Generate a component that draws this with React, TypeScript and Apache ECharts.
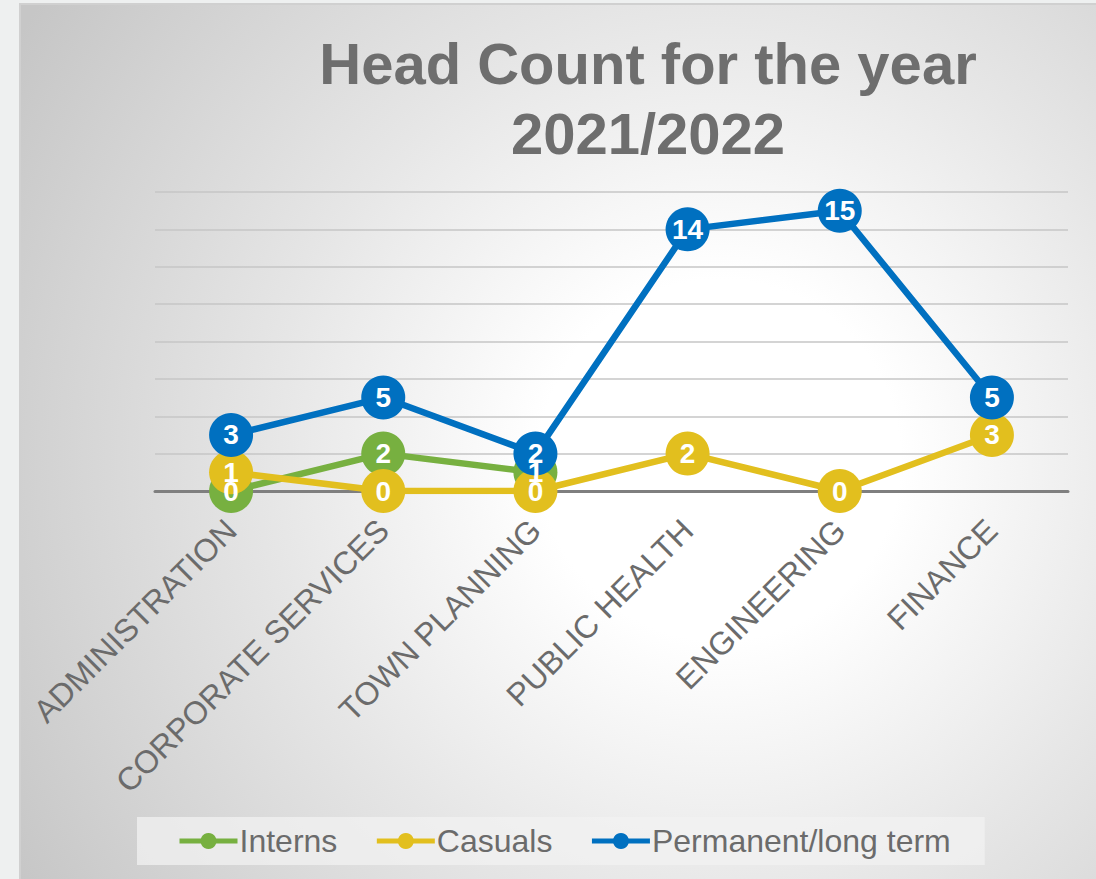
import React, { useEffect, useRef } from 'react';
import * as echarts from 'echarts';

const categories = ['ADMINISTRATION', 'CORPORATE SERVICES', 'TOWN PLANNING', 'PUBLIC HEALTH', 'ENGINEERING', 'FINANCE'];
const interns = [0, 2, 1, null, null, null];
const casuals = [1, 0, 0, 2, 0, 3];
const permanent = [3, 5, 2, 14, 15, 5];
const seriesNames = ['Interns', 'Casuals', 'Permanent/long term'];
const seriesColors = ['#77b040', '#e2bf1e', '#0070c0'];
const titleText = 'Head Count for the year\n2021/2022';
const yMin = 0;
const yMax = 16;
const yInterval = 2;

const FONT = 'Arial, "Liberation Sans", Helvetica, sans-serif';

function makeSeries(name: string, data: (number | null)[], color: string) {
  return {
    name,
    type: 'line',
    data,
    symbol: 'circle',
    symbolSize: 44,
    showSymbol: true,
    connectNulls: false,
    lineStyle: { width: 6.5, color },
    itemStyle: { color },
    label: {
      show: true,
      position: 'inside',
      color: '#ffffff',
      fontSize: 28,
      fontWeight: 'bold',
      fontFamily: FONT,
    },
    emphasis: { disabled: true },
  };
}

export default function App() {
  const ref = useRef<HTMLDivElement>(null);
  useEffect(() => {
    if (!ref.current) return;
    const chart = echarts.init(ref.current, null, { renderer: 'svg' });
    const option = {
      animation: false,
      title: {
        text: titleText,
        left: 643,
        top: 23,
        textAlign: 'center',
        textStyle: {
          fontFamily: FONT,
          fontSize: 58,
          fontWeight: 'bold',
          color: '#6e6e6e',
          lineHeight: 70,
          align: 'center',
        },
      },
      graphic: [
        {
          type: 'rect',
          z: -100,
          silent: true,
          shape: { x: 20, y: 4, width: 1080, height: 880 },
          style: {
            fill: new echarts.graphic.RadialGradient(720, 460, 820, [
              { offset: 0, color: '#ffffff' },
              { offset: 0.22, color: '#ffffff' },
              { offset: 0.55, color: '#e6e6e6' },
              { offset: 1, color: '#c6c6c6' },
            ], true),
            stroke: '#d0d0d0',
            lineWidth: 2,
          },
        },
      ],
      legend: {
        data: seriesNames,
        left: 137,
        top: 817,
        padding: [8, 34, 8, 40],
        itemGap: 37,
        itemWidth: 58,
        itemHeight: 20,
        lineStyle: { width: 5 },
        backgroundColor: 'rgba(242,242,242,0.75)',
        textStyle: { fontFamily: FONT, fontSize: 32, color: '#6b6b6b', padding: [0, 0, 0, -3] },
      },
      grid: { left: 155, right: 28, top: 192, bottom: 388, containLabel: false },
      xAxis: {
        type: 'category',
        data: categories,
        boundaryGap: true,
        axisLine: { show: true, lineStyle: { color: '#7f7f7f', width: 3 } },
        axisTick: { show: false },
        axisLabel: {
          rotate: 45,
          interval: 0,
          margin: 34,
          verticalAlign: 'middle',
          fontFamily: FONT,
          fontSize: 32,
          color: '#6b6b6b',
        },
        splitLine: { show: false },
      },
      yAxis: {
        type: 'value',
        min: yMin,
        max: yMax,
        interval: yInterval,
        axisLine: { show: false },
        axisTick: { show: false },
        axisLabel: { show: false },
        splitLine: { show: true, lineStyle: { color: '#c6c6c6', width: 1.5 } },
      },
      series: [
        makeSeries(seriesNames[0], interns, seriesColors[0]),
        makeSeries(seriesNames[1], casuals, seriesColors[1]),
        makeSeries(seriesNames[2], permanent, seriesColors[2]),
      ],
    };
    chart.setOption(option as any);
    return () => chart.dispose();
  }, []);
  return (
    <div
      style={{ position: 'absolute', left: 0, top: 0, width: 1096, height: 879, background: '#eef0f0', overflow: 'hidden' }}
    >
      <div ref={ref} style={{ width: 1096, height: 879 }} />
    </div>
  );
}
